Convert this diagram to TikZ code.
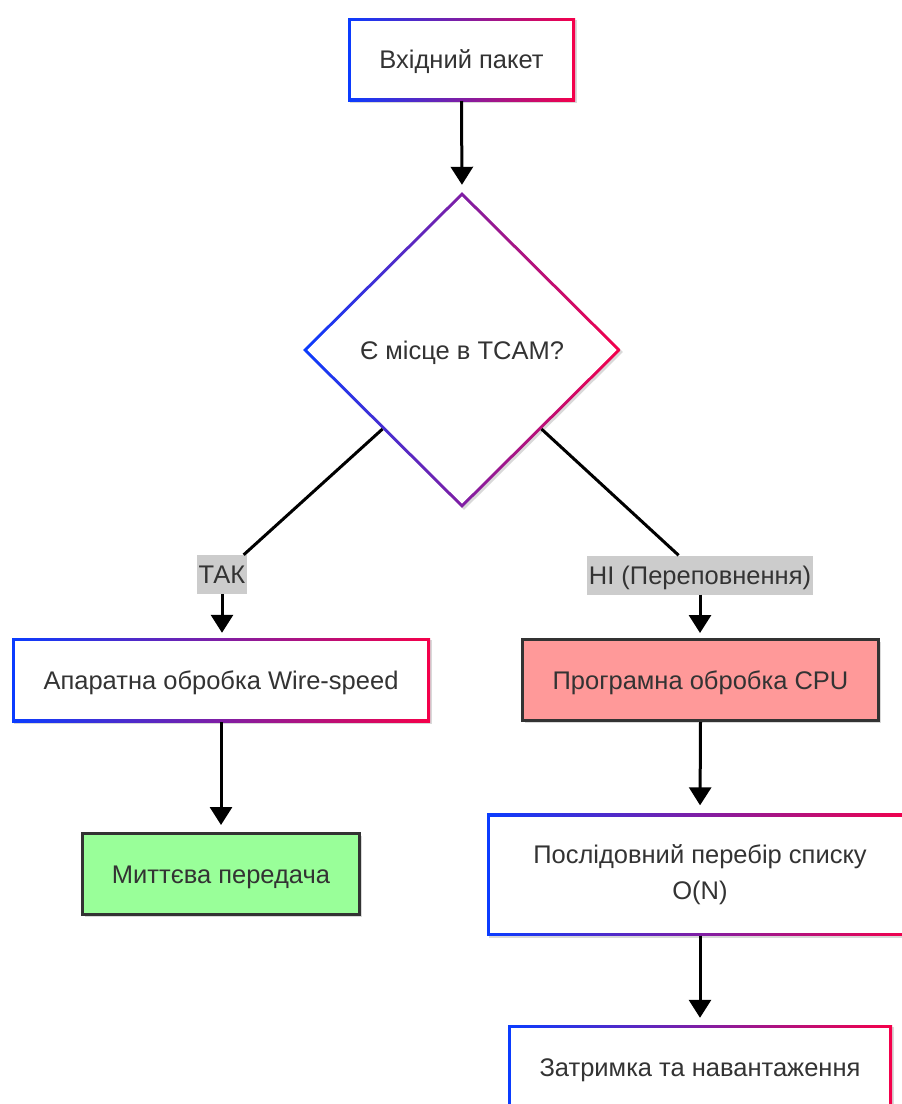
\documentclass[tikz,border=0pt]{standalone}
\usepackage{fontspec}
\setmainfont{Liberation Sans}
\usetikzlibrary{shapes.geometric,arrows.meta,calc,shadows}
\definecolor{gbl}{HTML}{0A3CFF}
\definecolor{gbr}{HTML}{F5004A}
\definecolor{txt}{HTML}{333333}
\definecolor{lblgray}{HTML}{CCCCCC}
\definecolor{redfill}{HTML}{FF9999}
\definecolor{greenfill}{HTML}{99FF99}
\definecolor{darkedge}{HTML}{333333}
\begin{document}
\begin{tikzpicture}[x=1pt,y=-1pt,
  font=\fontsize{25.5}{30}\selectfont,
  shadowed/.style={drop shadow={shadow xshift=2pt,shadow yshift=-2pt,opacity=0.15,fill=black}},
  tc/.style={text height=18.5pt, text depth=0pt},
  gframe/.style={rectangle, inner sep=0pt, left color=gbl, right color=gbr, shadowed},
  ginner/.style={rectangle, inner sep=0pt, fill=white, text=txt, align=center},
  solidbox/.style={rectangle, inner sep=0pt, draw=darkedge, line width=3pt, text=txt, shadowed, tc},
  gdiam/.style={diamond, inner sep=0pt, left color=gbl, right color=gbr, shadowed},
  wdiam/.style={diamond, inner sep=0pt, fill=white},
  lbl/.style={fill=lblgray, text=txt, inner xsep=1.5pt, inner ysep=0pt, minimum height=39pt, tc},
  arr/.style={line width=3pt, -{Triangle[width=22pt,length=18pt]}},
  conn/.style={line width=3pt},
]
\useasboundingbox (0,0) rectangle (902,1104);
\clip (0,0) rectangle (902,1104);
\fill[white] (0,0) rectangle (902,1104);

% top box
\node[gframe, minimum width=227pt, minimum height=83pt] (in) at (461.5,59.5) {};
\node[ginner, tc, minimum width=221pt, minimum height=77pt] (in-t) at (in) {Вхідний пакет};

% decision
\node[gdiam, minimum width=318pt, minimum height=316pt] (dec) at (462,350) {};
\node[wdiam, minimum width=309.5pt, minimum height=307.5pt] (dec-w) at (dec) {};
\node[text=txt, tc] (dec-t) at (dec) {Є місце в TCAM?};

% labels
\node[lbl] (yes) at (222,574.5) {ТАК};
\node[lbl] (no) at (700,575) {НІ (Переповнення)};

% hardware
\node[gframe, minimum width=418pt, minimum height=84pt] (hw) at (221,680) {};
\node[ginner, tc, minimum width=412pt, minimum height=78pt] (hw-t) at (hw) {Апаратна обробка Wire-speed};

% software
\node[solidbox, fill=redfill, minimum width=356pt, minimum height=81pt] (sw) at (700.5,680) {Програмна обробка CPU};

% instant
\node[solidbox, fill=greenfill, minimum width=277pt, minimum height=81pt] (inst) at (221,874) {Миттєва передача};

% sequential
\node[gframe, minimum width=426pt, minimum height=122pt] (seq) at (700,874.5) {};
\node[ginner, minimum width=420pt, minimum height=116pt, font=\fontsize{25.5}{36}\selectfont] (seq-t) at (seq) {Послідовний перебір списку\\O(N)};

% delay
\node[gframe, minimum width=384pt, minimum height=84pt] (delay) at (700,1067) {};
\node[ginner, tc, minimum width=378pt, minimum height=78pt] (delay-t) at (delay) {Затримка та навантаження};

% connectors
\draw[arr, shorten >=7pt] (in.south) -- (dec.north);
\draw[conn] ($(dec.south)!0.5!(dec.west)$) -- (yes);
\draw[arr, shorten >=5pt] (yes.south) -- (yes.south |- hw.north);
\draw[conn] ($(dec.south)!0.5!(dec.east)$) -- (no);
\draw[arr, shorten >=5pt] (no.south) -- (no.south |- sw.north);
\draw[arr, shorten >=7pt] (hw.south) -- (inst.north);
\draw[arr, shorten >=8pt] (sw.south) -- (seq.north);
\draw[arr, shorten >=7pt] (seq.south) -- (delay.north);
\end{tikzpicture}
\end{document}
